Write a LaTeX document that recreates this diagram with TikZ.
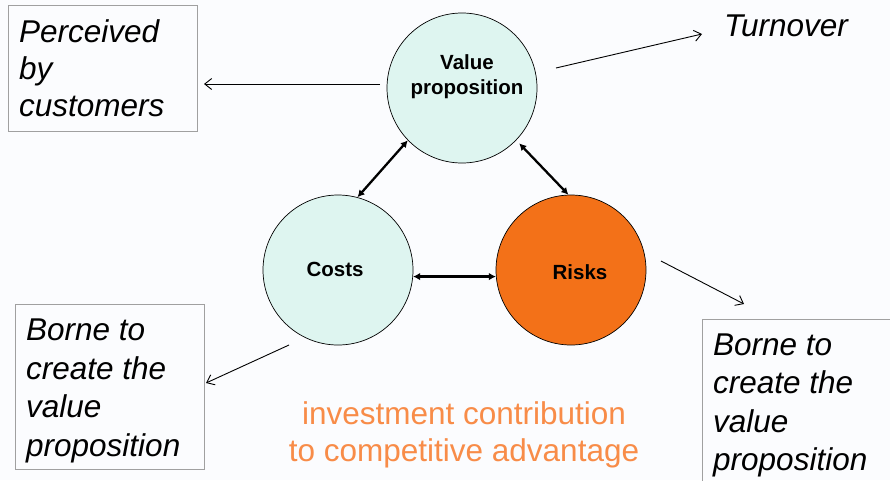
\documentclass[tikz,border=0pt]{standalone}
\usepackage{fontspec}
\setmainfont{Liberation Sans}
\usetikzlibrary{arrows.meta}
\definecolor{bgc}{RGB}{251,252,254}
\definecolor{lightfill}{RGB}{222,245,240}
\definecolor{riskorange}{RGB}{243,113,24}
\definecolor{boxgray}{RGB}{160,160,160}
\definecolor{textorange}{RGB}{248,140,72}
\tikzset{
  bubble/.style={circle, draw=black, line width=0.7pt, minimum size=150pt, inner sep=0pt},
  labelbox/.style={draw=boxgray, line width=0.9pt},
  boxtext/.style={anchor=north west, inner sep=0pt, align=left, font=\fontsize{31.5}{38.5}\selectfont\itshape},
  bubbletext/.style={inner sep=0pt, align=center, font=\fontsize{20.5}{25}\selectfont\bfseries},
  thinarrow/.style={line width=0.9pt, -{Straight Barb[length=7pt,width=11pt]}},
  thickarrow/.style={line width=2.3pt, {Latex[length=7pt,width=7.5pt]}-{Latex[length=7pt,width=7.5pt]}}
}
\begin{document}
\begin{tikzpicture}[x=1pt,y=-1pt]
\path[use as bounding box, fill=bgc] (0,0) rectangle (890,480);

% circles
\node[bubble, fill=lightfill] (vp) at (462,88) {};
\node[bubble, fill=lightfill] (costs) at (338,270) {};
\node[bubble, fill=riskorange] (risks) at (571,270) {};

\node[bubbletext, anchor=north] (vptext) at (467,54.5) {Value\\proposition};
\node[bubbletext, anchor=base] (coststext) at (335,276) {Costs};
\node[bubbletext, anchor=base] (riskstext) at (580,279) {Risks};

% boxes
\draw[labelbox] (8,5) rectangle (197,131);
\node[boxtext, font=\fontsize{31.5}{37}\selectfont\itshape] (perc) at (19,19) {Perceived\\by\\customers};

\draw[labelbox] (15,304) rectangle (204,469);
\node[boxtext] (borneL) at (26,319) {Borne to\\create the\\value\\proposition};

\draw[labelbox] (702,319) rectangle (895,490);
\node[boxtext] (borneR) at (713,333.5) {Borne to\\create the\\value\\proposition};

\node[anchor=base west, inner sep=0pt, font=\fontsize{31.5}{38}\selectfont\itshape] (turn) at (724,36) {Turnover};

\node[anchor=north, inner sep=0pt, align=center, text=textorange, font=\fontsize{31.5}{37}\selectfont] (invest) at (464,401) {investment contribution\\to competitive advantage};

% thick double arrows
\draw[thickarrow] (costs.75) -- (vp.224);
\draw[thickarrow] ([shift={(3,3)}]vp.-44) -- (risks.92);
\draw[thickarrow] (costs.-5) -- (risks.185);

% thin arrows
\coordinate (a1s) at (380,84);
\coordinate (a1e) at (204,84);
\coordinate (a2s) at (556,68);
\coordinate (a2e) at (702,34);
\coordinate (a3s) at (661,261);
\coordinate (a3e) at (744,304);
\coordinate (a4s) at (289,345);
\coordinate (a4e) at (206,383);
\draw[thinarrow] (a1s) -- (a1e);
\draw[thinarrow] (a2s) -- (a2e);
\draw[thinarrow] (a3s) -- (a3e);
\draw[thinarrow] (a4s) -- (a4e);
\end{tikzpicture}
\end{document}
